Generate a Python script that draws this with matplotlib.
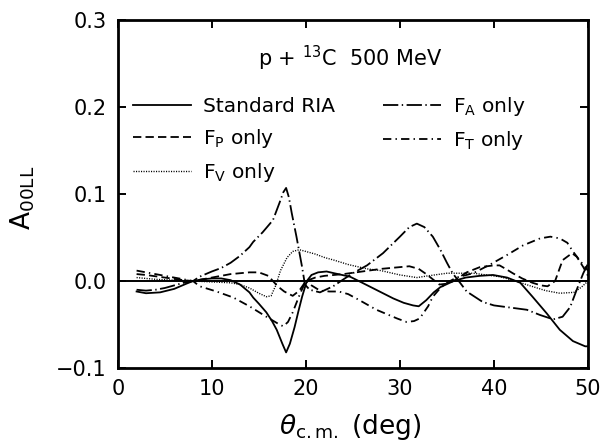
import matplotlib
matplotlib.use("Agg")
import matplotlib.pyplot as plt

plt.rcParams['font.family'] = ['DejaVu Sans']
plt.rcParams['mathtext.fontset'] = 'dejavusans'
plt.rcParams['lines.scale_dashes'] = False

# Standard RIA
ria_x = [2, 3, 4.5, 6, 7.3, 8, 9, 10, 11, 12, 13, 14, 14.4, 15, 15.8, 16.4, 16.9, 17.5, 17.9, 18.3,
         18.8, 19.2, 19.6, 20.1, 20.6, 21.3, 22.2, 23, 24.7, 26, 27.1, 28.2, 29.3, 30.4, 31.4, 32,
         32.8, 33.6, 34.3, 35.7, 37, 38.5, 39.9, 41.4, 42.8, 44.1, 45.6, 47, 48.4, 49.7, 50]
ria_y = [-0.012, -0.014, -0.013, -0.009, -0.003, 0.0, 0.002, 0.003, 0.003, 0.001, -0.004, -0.013,
         -0.019, -0.026, -0.036, -0.046, -0.056, -0.072, -0.082, -0.072, -0.053, -0.035, -0.018, 0.0,
         0.007, 0.010, 0.011, 0.009, 0.005, -0.002, -0.008, -0.014, -0.020, -0.025, -0.028, -0.029,
         -0.022, -0.013, -0.007, 0.0, 0.004, 0.006, 0.007, 0.004, -0.002, -0.018, -0.037, -0.056,
         -0.069, -0.075, -0.075]

# F_P only
fp_x = [2, 3, 5, 7, 8, 9, 10, 11, 12, 13, 14, 15, 16, 17, 17.7, 18.6, 19.3, 20, 21, 22, 24, 26,
        28, 29, 30, 31, 32, 32.8, 33.5, 34.2, 35, 35.7, 37.1, 38.5, 40, 40.6, 41.4, 42, 43, 44.1,
        45, 45.7, 46.5, 47.3, 48.3, 48.8, 49.5, 50]
fp_y = [0.008, 0.007, 0.004, 0.001, 0.0, 0.002, 0.004, 0.006, 0.008, 0.009, 0.010, 0.010, 0.006,
        -0.006, -0.012, -0.017, -0.011, 0.0, 0.004, 0.006, 0.008, 0.011, 0.014, 0.015, 0.016, 0.017,
        0.014, 0.008, 0.002, -0.004, -0.003, 0.0, 0.010, 0.016, 0.018, 0.018, 0.013, 0.009, 0.003,
        -0.002, -0.005, -0.006, 0.0, 0.024, 0.032, 0.028, 0.016, 0.006]

# F_V only
fv_x = [2, 4, 6, 8, 10, 12, 13, 14, 15, 15.8, 16.3, 16.8, 17.3, 18, 18.6, 19.3, 20, 21, 22, 23,
        24.5, 26.5, 28, 30, 31.8, 33, 35, 37.8, 40.6, 42, 44, 45.5, 47, 48.5, 49.3, 50]
fv_y = [0.004, 0.002, 0.001, 0.0, -0.001, -0.002, -0.004, -0.008, -0.014, -0.018, -0.017, -0.005,
        0.012, 0.027, 0.034, 0.036, 0.034, 0.031, 0.027, 0.024, 0.019, 0.014, 0.012, 0.007, 0.004,
        0.006, 0.009, 0.009, 0.005, 0.001, -0.006, -0.011, -0.014, -0.013, -0.007, 0.0]

# F_A only
fa_x = [2, 3, 4, 5, 6, 7, 8, 8.7, 10, 11, 12, 13, 14, 14.4, 15.4, 16.5, 17.2, 17.6, 17.9, 18.2,
        18.5, 19, 19.6, 19.9, 20.4, 21.5, 22.9, 24, 25, 26.5, 28.2, 30, 31, 31.8, 32.6, 33.5, 34.3,
        35, 35.6, 36.4, 37.1, 38.8, 40, 41.4, 43.5, 44.9, 46.3, 47.3, 48.1, 48.8, 49.5, 50]
fa_y = [-0.010, -0.011, -0.010, -0.008, -0.005, -0.002, 0.0, 0.005, 0.011, 0.015, 0.021, 0.029,
        0.039, 0.045, 0.056, 0.070, 0.090, 0.102, 0.107, 0.096, 0.078, 0.051, 0.016, -0.004, -0.010,
        -0.013, -0.006, 0.002, 0.009, 0.018, 0.032, 0.051, 0.062, 0.066, 0.062, 0.051, 0.036, 0.021,
        0.009, -0.002, -0.012, -0.024, -0.028, -0.030, -0.033, -0.039, -0.044, -0.041, -0.030,
        -0.010, 0.009, 0.020]

# F_T only
ft_x = [2, 3, 4, 5, 6, 7, 8, 8.7, 10.5, 12.3, 14, 15.8, 17.2, 17.6, 18.1, 18.6, 19.4, 20, 20.6,
        21.5, 22.5, 23.5, 24.5, 25.7, 27.5, 29.7, 30.7, 31.5, 32.1, 33, 33.5, 34.3, 35, 36, 37.8,
        39.6, 41.4, 43.1, 44.9, 46, 47, 47.8, 48.4, 49.1, 49.7, 50]
ft_y = [0.012, 0.010, 0.008, 0.006, 0.004, 0.002, 0.0, -0.006, -0.012, -0.019, -0.029, -0.041,
        -0.050, -0.052, -0.047, -0.036, -0.014, 0.0, -0.005, -0.011, -0.012, -0.012, -0.015, -0.022,
        -0.033, -0.043, -0.047, -0.046, -0.043, -0.029, -0.018, -0.008, -0.002, 0.004, 0.009, 0.019,
        0.030, 0.041, 0.049, 0.051, 0.049, 0.044, 0.034, 0.024, 0.016, 0.012]

labels = ["Standard RIA", r"F$_\mathrm{P}$ only", r"F$_\mathrm{V}$ only",
          r"F$_\mathrm{A}$ only", r"F$_\mathrm{T}$ only"]
x_ticks = [0, 10, 20, 30, 40, 50]
y_ticks = [-0.1, 0.0, 0.1, 0.2, 0.3]

fig = plt.figure(figsize=(6.04, 4.44), dpi=100)
ax = fig.add_axes([0.195, 0.171, 0.7785, 0.784])

lw = 1.3
ax.axhline(0.0, color='black', lw=1.4, zorder=1)
h1, = ax.plot(ria_x, ria_y, color='black', lw=lw, label=labels[0])
h2, = ax.plot(fp_x, fp_y, color='black', lw=lw, dashes=(6, 3), label=labels[1])
h3, = ax.plot(fv_x, fv_y, color='black', lw=1.0, dashes=(0.8, 1.0), label=labels[2])
h4, = ax.plot(fa_x, fa_y, color='black', lw=lw, dashes=(11, 2.5, 1, 2.5), label=labels[3])
h5, = ax.plot(ft_x, ft_y, color='black', lw=lw, dashes=(6, 3, 1, 3), label=labels[4])

ax.set_xlim(0, 50)
ax.set_ylim(-0.1, 0.3)
ax.set_xticks(x_ticks)
ax.set_yticks(y_ticks)
ax.set_xticklabels([str(t) for t in x_ticks])
ax.set_yticklabels([f"{t:.1f}".replace('-', '\u2212') for t in y_ticks])
ax.tick_params(direction='in', length=6, width=1.4, top=True, right=True,
               labelsize=15, pad=8)
for s in ax.spines.values():
    s.set_linewidth(2.0)

ax.set_ylabel(r"A$_\mathrm{00LL}$", fontsize=19)
ax.yaxis.set_label_coords(-0.172, 0.49)
ax.set_xlabel(r"$\theta_\mathrm{c.m.}$ (deg)", fontsize=19)
ax.xaxis.set_label_coords(0.494, -0.127)

ax.text(24.7, 0.256, r"p + $^{13}$C  500 MeV", ha='center', va='center', fontsize=15)

leg = ax.legend(handles=[h1, h2, h3, h4, h5], ncol=2, loc='upper left',
                bbox_to_anchor=(0.032, 0.785), frameon=False, fontsize=14.5,
                handlelength=2.9, handletextpad=0.6, columnspacing=2.35,
                labelspacing=0.55, borderaxespad=0.0, borderpad=0.0)

fig.savefig("out.png", dpi=100)
